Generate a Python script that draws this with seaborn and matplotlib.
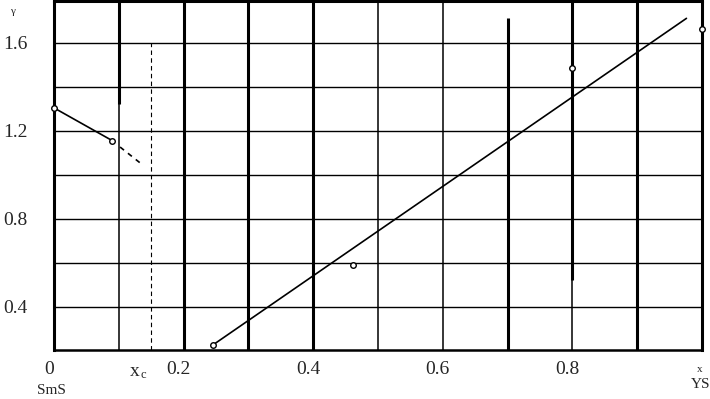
import matplotlib
matplotlib.use("Agg")
import matplotlib.pyplot as plt
import matplotlib.transforms as mtransforms
import seaborn as sns

# measured points (gamma vs x)
x_pts = [0.0, 0.090, 0.245, 0.462, 0.800, 1.0]
g_pts = [1.305, 1.156, 0.227, 0.591, 1.488, 1.664]

# SmS-side segment and its dashed extrapolation
left_x = [0.0, 0.090]
left_g = [1.305, 1.156]
extra_x = [0.102, 0.135]
extra_g = [1.127, 1.05]

# YS-side straight line
right_x = [0.245, 0.976]
right_g = [0.227, 1.712]

x_c = 0.15
x_c_top = 1.6

xticks = [0.0, 0.2, 0.4, 0.6, 0.8]
xtick_labels = ["0", "0.2", "0.4", "0.6", "0.8"]
yticks = [0.4, 0.8, 1.2, 1.6]
ytick_labels = ["0.4", "0.8", "1.2", "1.6"]
hgrid = [0.4, 0.6, 0.8, 1.0, 1.2, 1.4, 1.6]

sns.set_style("white")
plt.rcParams['font.family'] = ['Liberation Serif', 'DejaVu Serif']

W, H = 710, 399
fig, ax = plt.subplots(figsize=(W / 100, H / 100), dpi=100)
ax.set_position([54 / W, 1 - 350 / H, 648 / W, 348.5 / H])
ymin, ymax = 0.2045, 1.7886
ax.set_xlim(0, 1)
ax.set_ylim(ymin, ymax)

# grid, drawn by hand because line weights vary
for y in hgrid:
    ax.axhline(y, color='k', lw=1.0, zorder=1)
thick, thin = 2.2, 1.1
ax.vlines(0.1, 1.323, ymax, color='k', lw=thick, zorder=1)
ax.vlines(0.1, ymin, 1.323, color='k', lw=thin, zorder=1)
for xv in [0.2, 0.3, 0.4, 0.9]:
    ax.vlines(xv, ymin, ymax, color='k', lw=thick, zorder=1)
for xv in [0.5, 0.6]:
    ax.vlines(xv, ymin, ymax, color='k', lw=thin, zorder=1)
ax.vlines(0.7, ymin, 1.714, color='k', lw=thick, zorder=1)
ax.vlines(0.8, 0.523, ymax, color='k', lw=thick, zorder=1)
ax.vlines(0.8, ymin, 0.523, color='k', lw=thin, zorder=1)

# x_c dashed marker line
ax.vlines(x_c, ymin, x_c_top, color='k', lw=0.8, linestyles=(0, (4, 3)), zorder=2)

sns.lineplot(x=left_x, y=left_g, ax=ax, color='k', lw=1.2, sort=False, estimator=None, zorder=3)
sns.lineplot(x=extra_x, y=extra_g, ax=ax, color='k', lw=1.2, sort=False, estimator=None,
             dashes=False, zorder=3).lines[-1].set_dashes((3, 3))
sns.lineplot(x=right_x, y=right_g, ax=ax, color='k', lw=1.2, sort=False, estimator=None, zorder=3)
sns.scatterplot(x=x_pts, y=g_pts, ax=ax, marker='o', s=16, facecolor='white',
                edgecolor='k', linewidth=1.0, zorder=6, clip_on=False)

for s in ax.spines.values():
    s.set_color('k')
    s.set_linewidth(2.2)
ax.spines['bottom'].set_linewidth(1.8)

ax.set_xticks(xticks, xtick_labels)
ax.set_yticks(yticks, ytick_labels)
ax.tick_params(axis='both', length=0, labelsize=14)
ax.tick_params(axis='x', pad=8)
ax.tick_params(axis='y', pad=19)
offset = mtransforms.ScaledTranslation(-5 / 100, 0, fig.dpi_scale_trans)
for lab in ax.get_xticklabels():
    lab.set_transform(lab.get_transform() + offset)

# extra labels
fig.text(12 / W, 1 - 11 / H, "γ", fontsize=8, ha='center', va='center')
fig.text(51 / W, 1 - 391 / H, "SmS", fontsize=11, ha='center', va='center')
fig.text(135 / W, 1 - 371 / H, "x", fontsize=14, ha='center', va='center')
fig.text(143 / W, 1 - 375 / H, "c", fontsize=9, ha='center', va='center')
fig.text(700 / W, 1 - 369 / H, "x", fontsize=8, ha='center', va='center')
fig.text(701 / W, 1 - 385 / H, "YS", fontsize=11, ha='center', va='center')

fig.savefig("out.png", dpi=100)
